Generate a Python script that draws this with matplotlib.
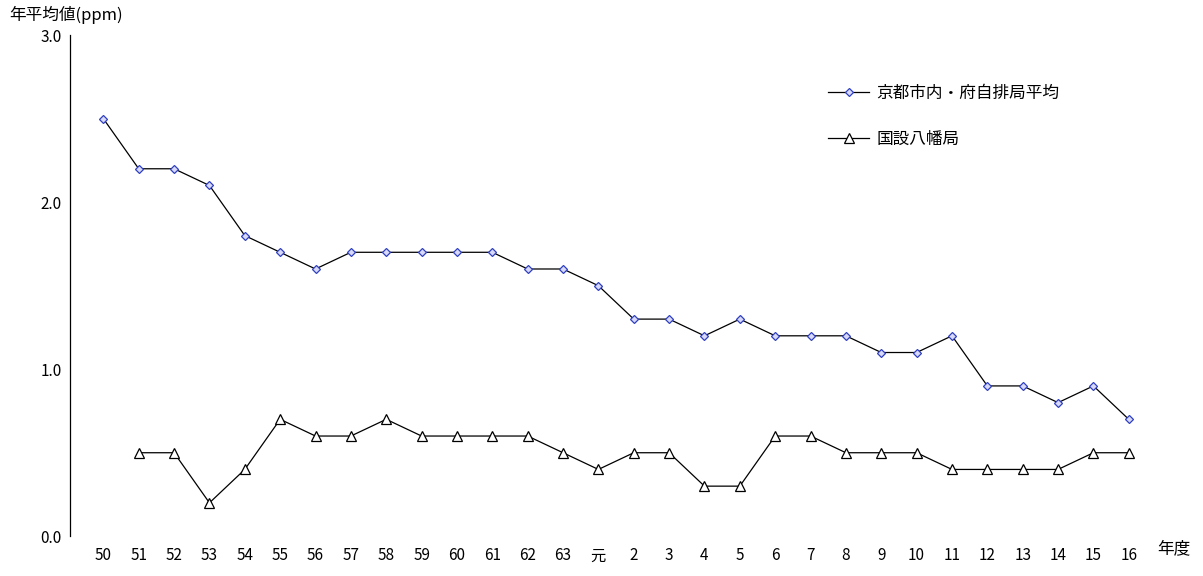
import matplotlib
matplotlib.use('Agg')
import matplotlib.pyplot as plt
import numpy as np

plt.rcParams['font.family'] = ['Noto Sans CJK JP', 'DejaVu Sans']

labels = ['50', '51', '52', '53', '54', '55', '56', '57', '58', '59', '60', '61', '62', '63',
          '元', '2', '3', '4', '5', '6', '7', '8', '9', '10', '11', '12', '13', '14', '15', '16']
kyoto = [2.5, 2.2, 2.2, 2.1, 1.8, 1.7, 1.6, 1.7, 1.7, 1.7, 1.7, 1.7, 1.6, 1.6,
         1.5, 1.3, 1.3, 1.2, 1.3, 1.2, 1.2, 1.2, 1.1, 1.1, 1.2, 0.9, 0.9, 0.8, 0.9, 0.7]
yawata = [np.nan, 0.5, 0.5, 0.2, 0.4, 0.7, 0.6, 0.6, 0.7, 0.6, 0.6, 0.6, 0.6, 0.5,
          0.4, 0.5, 0.5, 0.3, 0.3, 0.6, 0.6, 0.5, 0.5, 0.5, 0.4, 0.4, 0.4, 0.4, 0.5, 0.5]

x = np.arange(len(labels))
fig = plt.figure(figsize=(12.03, 5.76), dpi=100)
ax = fig.add_axes([0.058, 0.069, 0.895, 0.87])

ax.plot(x, kyoto, color='black', lw=0.9, marker='D', ms=4.5,
        mfc='#d8d8f8', mec='#3040c0', mew=0.9, label='京都市内・府自排局平均')
ax.plot(x, yawata, color='black', lw=0.9, marker='^', ms=6.5,
        mfc='white', mec='black', mew=0.9, label='国設八幡局')

ax.set_xlim(-0.95, 29.5)
ax.set_ylim(0, 3.0)
ax.set_yticks([0, 1.0, 2.0, 3.0])
ax.set_yticklabels(['0.0', '1.0', '2.0', '3.0'], fontsize=11)
ax.set_xticks(x)
ax.set_xticklabels(labels, fontsize=11)
ax.tick_params(axis='x', length=0, pad=8)
ax.tick_params(axis='y', length=0, pad=6)
for s in ['top', 'right']:
    ax.spines[s].set_visible(False)
ax.spines['bottom'].set_visible(False)
ax.spines['left'].set_linewidth(0.9)

fig.text(0.008, 0.965, '年平均値(ppm)', fontsize=12)
fig.text(0.962, 0.04, '年度', fontsize=12)

ax.legend(loc='upper left', bbox_to_anchor=(0.69, 0.93), frameon=False,
          fontsize=12, handlelength=2.5, labelspacing=1.7, handletextpad=0.4)

fig.savefig('out.png', dpi=100)
